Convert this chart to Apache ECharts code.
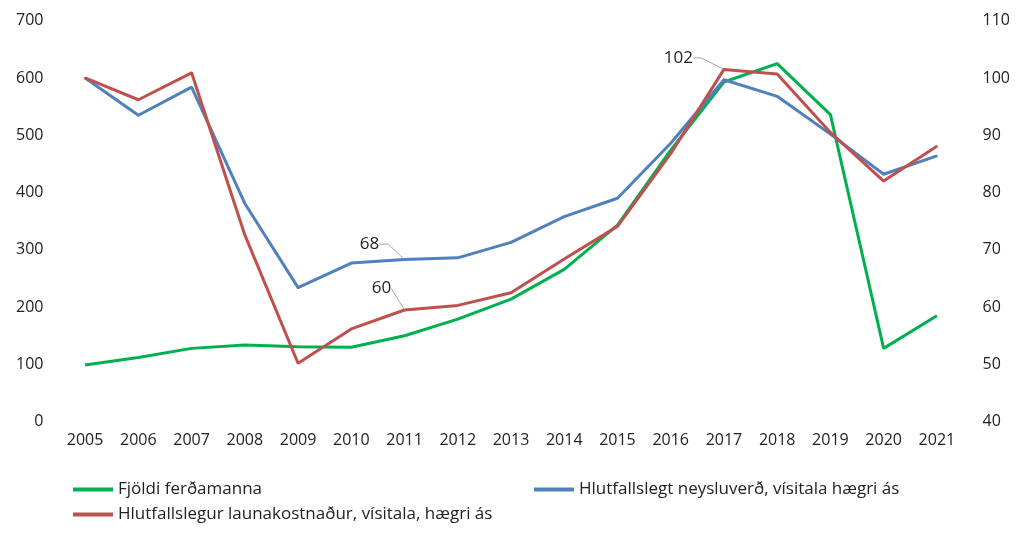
<!DOCTYPE html>
<html>
<head>
<meta charset="utf-8">
<script src="https://cdn.jsdelivr.net/npm/echarts@6/dist/echarts.min.js"></script>
<style>html,body{margin:0;padding:0;background:#fff;}#c{width:1024px;height:542px;}</style>
</head>
<body>
<div id="c"></div>
<script>
var years = ['2005','2006','2007','2008','2009','2010','2011','2012','2013','2014','2015','2016','2017','2018','2019','2020','2021'];
var touristsName = 'Fjöldi ferðamanna';
var priceName = 'Hlutfallslegt neysluverð, vísitala hægri ás';
var wageName = 'Hlutfallslegur launakostnaður, vísitala, hægri ás';
var tourists = [99,112,128,134,131,130,150,179,214,266,343,474,593,625,536,128,185];
var price = [100,93.5,98.4,78.1,63.4,67.7,68.3,68.6,71.3,75.8,79.0,88.6,99.7,96.8,90.2,83.2,86.4];
var wage = [100,96.2,100.9,72.6,50.2,56.2,59.5,60.3,62.5,68.4,74.1,86.8,101.5,100.7,90.5,82.0,88.1];
// annotated points: index -> [label text, dx, dy, leader elbow length, label padding]
var priceNotes = {6: ['68', -31, -1, 9, [0, 8, 0, 0]]};
var wageNotes = {6: ['60', -23, -4, 0, [0, 0, 3, 0]], 12: ['102', -42, 3, 8, [0, 7, 0, 0]]};

var FONT = 'Open Sans';
var txt = '#222';

function withNotes(values, notes) {
  return values.map(function (v, i) {
    var n = notes[i];
    if (!n) return v;
    return {
      value: v,
      label: {show: true, position: 'top', distance: 5, formatter: n[0], padding: n[4],
              fontFamily: FONT, fontSize: 17, color: txt},
      labelLine: {show: true, length2: n[3], lineStyle: {color: '#a6a6a6', width: 1}}
    };
  });
}
function layoutFor(notes) {
  return function (p) {
    var n = notes[p.dataIndex];
    if (!n) return {};
    return {dx: n[1], dy: n[2]};
  };
}

var legendText = {fontFamily: FONT, fontSize: 17, color: txt};
var chart = echarts.init(document.getElementById('c'));
chart.setOption({
  animation: false,
  backgroundColor: '#fff',
  textStyle: {fontFamily: FONT},
  grid: {left: 58.5, right: 60.5, top: 20.7, bottom: 120.3},
  legend: [
    {data: [touristsName], left: 68, top: 476, itemWidth: 40, itemHeight: 4, icon: 'rect', textStyle: legendText},
    {data: [priceName], left: 529, top: 476, itemWidth: 40, itemHeight: 4, icon: 'rect', textStyle: legendText},
    {data: [wageName], left: 68, top: 501, itemWidth: 40, itemHeight: 4, icon: 'rect', textStyle: legendText}
  ],
  xAxis: {
    type: 'category', data: years, boundaryGap: true,
    axisLine: {show: false}, axisTick: {show: false},
    axisLabel: {fontFamily: FONT, fontSize: 16, color: txt, margin: 11}
  },
  yAxis: [
    {type: 'value', min: 0, max: 700, interval: 100, splitLine: {show: false},
     axisLine: {show: false}, axisTick: {show: false},
     axisLabel: {fontFamily: FONT, fontSize: 16, color: txt, margin: 15}},
    {type: 'value', min: 40, max: 110, interval: 10, splitLine: {show: false},
     axisLine: {show: false}, axisTick: {show: false},
     axisLabel: {fontFamily: FONT, fontSize: 16, color: txt, margin: 19}}
  ],
  series: [
    {name: touristsName, type: 'line', yAxisIndex: 0, data: tourists, symbol: 'none',
     color: '#00B050', lineStyle: {width: 3, color: '#00B050'}, z: 2},
    {name: priceName, type: 'line', yAxisIndex: 1, data: withNotes(price, priceNotes),
     symbol: 'circle', symbolSize: 2, showSymbol: true, showAllSymbol: true,
     color: '#4F81BD', lineStyle: {width: 3, color: '#4F81BD'}, labelLayout: layoutFor(priceNotes), z: 3},
    {name: wageName, type: 'line', yAxisIndex: 1, data: withNotes(wage, wageNotes),
     symbol: 'circle', symbolSize: 2, showSymbol: true, showAllSymbol: true,
     color: '#C0504D', lineStyle: {width: 3, color: '#C0504D'}, labelLayout: layoutFor(wageNotes), z: 4}
  ]
});
</script>
</body>
</html>
